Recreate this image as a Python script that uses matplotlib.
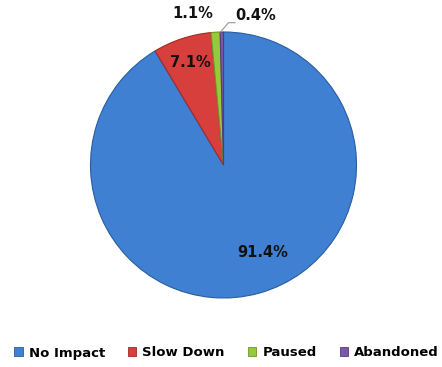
import numpy as np
import matplotlib
matplotlib.use("Agg")
import matplotlib.pyplot as plt

categorias = ["No Impact", "Slow Down", "Paused", "Abandoned"]
porcentajes = [91.4, 7.1, 1.1, 0.4]
colores = ["#3f80d2", "#d63f3c", "#97c93c", "#7b58a8"]
bordes = ["#2a5d9e", "#9e2c2a", "#6e9528", "#553b7a"]

fig = plt.figure(figsize=(4.42, 3.67), dpi=100)
# eje cuadrado en pixeles para que el pastel quede centrado arriba
cx, cy, r = 223.5, 165, 133
ax = fig.add_axes([(cx - r) / 442, 1 - (cy + r) / 367, 2 * r / 442, 2 * r / 367])

wedges, _ = ax.pie(porcentajes, colors=colores, startangle=90, counterclock=False,
                   radius=1, wedgeprops=dict(linewidth=0.8))
for w, b in zip(wedges, bordes):
    w.set_edgecolor(b)

# etiquetas: (radio, desplazamiento de angulo) para cada porcion
ubic = [(0.72, 9), (0.81, 0), (1.16, 8), (1.15, -13)]
for w, p, (rr, da) in zip(wedges, porcentajes, ubic):
    ang = np.deg2rad((w.theta1 + w.theta2) / 2 + da)
    ax.text(rr * np.cos(ang), rr * np.sin(ang), f"{p}%", ha="center", va="center",
            fontsize=10.5, fontweight="bold", color="#111111")

# linea guia de la porcion mas pequena
w = wedges[3]
ang = np.deg2rad((w.theta1 + w.theta2) / 2)
x0, y0 = 1.0 * np.cos(ang), 1.0 * np.sin(ang)
ax.plot([x0 - 0.01, x0 + 0.05, x0 + 0.1], [y0, y0 + 0.07, y0 + 0.07],
        color="#999999", lw=0.8, clip_on=False)

ax.set_xlim(-1, 1)
ax.set_ylim(-1, 1)
ax.axis("off")

handles = [plt.Rectangle((0, 0), 1, 1, facecolor=c, edgecolor=b, lw=0.6)
           for c, b in zip(colores, bordes)]
fig.legend(handles, categorias, loc="center", bbox_to_anchor=(226.5 / 442, 1 - 353 / 367),
           ncol=4, frameon=False, handlelength=0.65, handleheight=0.65,
           handletextpad=0.45, columnspacing=1.75,
           prop=dict(size=9.5, weight="bold"))

fig.savefig("out.png", dpi=100, facecolor="white")
